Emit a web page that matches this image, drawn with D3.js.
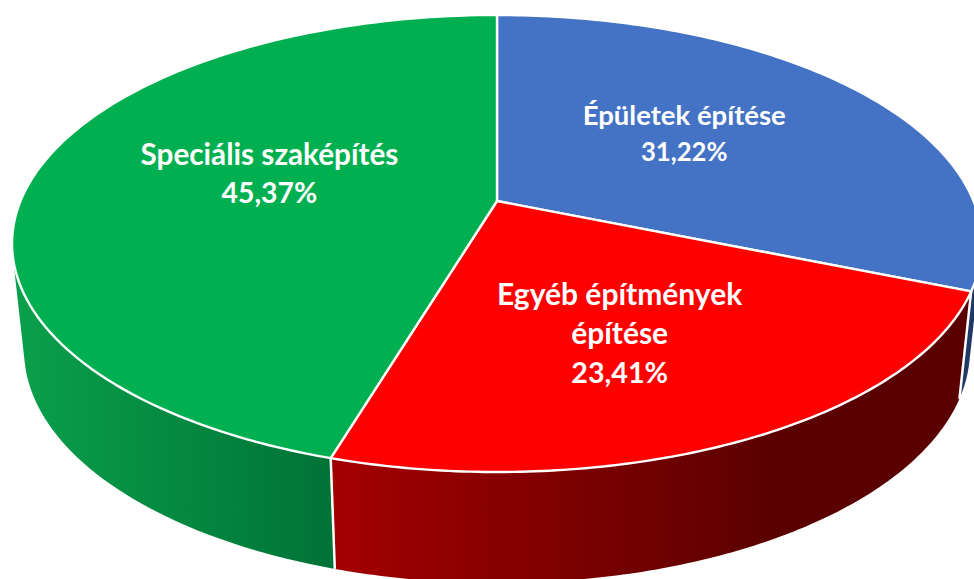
<!DOCTYPE html>
<html lang="en">

<head>
    <meta charset="UTF-8">
    <title>Építőipar</title>
    <script src="https://d3js.org/d3.v7.min.js"></script>
    <style>
        body { margin: 0; background: #fff; }
        svg { display: block; }
        text { font-family: Lato, "Open Sans", sans-serif; font-weight: 700; fill: #fff; }
    </style>
</head>

<body>
    <div id="chart"></div>
    <script>
        // Slices in clockwise order starting from 12 o'clock
        const categories = ["Épületek építése", "Egyéb építmények építése", "Speciális szaképítés"];
        const shares = [31.22, 23.41, 45.37];
        const shareLabels = ["31,22%", "23,41%", "45,37%"];
        const labelLines = [["Épületek építése"], ["Egyéb építmények", "építése"], ["Speciális szaképítés"]];

        const topColors = ["#4472C4", "#FF0000", "#00B050"];
        const wallColors = [["#1f3864", "#1f3864"], ["#a30000", "#5a0000"], ["#0aa04b", "#007236"]];

        const width = 974, height = 579;

        // The disc is seen in perspective, so a circle is pushed through a projective map.
        // tilt = how much nearer the front edge is than the back edge
        const tilt = 0.186;
        const topDisc = { cx: 497, cy: 201, rx: 476.5, ry: 220.6 };
        const bottomDisc = { cx: 497, cy: 306.6, rx: 464.7, ry: 225 };

        function project(disc, angle, r = 1) {
            const x = Math.sin(angle) * r;
            const y = -Math.cos(angle) * r;
            const w = 1 - tilt * y;
            return [disc.cx + disc.rx * x / w, disc.cy + disc.ry * y / w];
        }

        function arcPoints(disc, a0, a1) {
            return d3.range(0, 121).map(i => project(disc, a0 + (a1 - a0) * i / 120));
        }

        const slices = d3.pie().sort(null).value(d => d)(shares);
        const line = d3.line();

        const svg = d3.select("#chart")
            .append("svg")
            .attr("width", width)
            .attr("height", height);

        const defs = svg.append("defs");
        wallColors.forEach((c, i) => {
            const grad = defs.append("linearGradient")
                .attr("id", "wall" + i)
                .attr("gradientUnits", "userSpaceOnUse")
                .attr("x1", i === 2 ? 15 : 336).attr("x2", i === 2 ? 336 : 780)
                .attr("y1", 0).attr("y2", 0);
            grad.append("stop").attr("offset", 0).attr("stop-color", c[0]);
            grad.append("stop").attr("offset", 1).attr("stop-color", c[1]);
        });

        // Side walls: hull of both rims, painted so the red one ends up on top of the overlaps
        svg.append("g").selectAll("path")
            .data([0, 2, 1])
            .join("path")
            .attr("d", i => {
                const s = slices[i];
                const pts = arcPoints(topDisc, s.startAngle, s.endAngle)
                    .concat(arcPoints(bottomDisc, s.startAngle, s.endAngle));
                return line(d3.polygonHull(pts)) + "Z";
            })
            .attr("fill", i => `url(#wall${i})`);

        // White edges running down the wall at the front slice boundaries
        svg.append("g").selectAll("path")
            .data(slices.slice(0, 2))
            .join("path")
            .attr("d", s => line([project(topDisc, s.endAngle), project(bottomDisc, s.endAngle)]))
            .attr("fill", "none")
            .attr("stroke", "#fff")
            .attr("stroke-width", 2.5);

        // Top face
        svg.append("g").selectAll("path")
            .data(slices)
            .join("path")
            .attr("d", s => line([[topDisc.cx, topDisc.cy]].concat(arcPoints(topDisc, s.startAngle, s.endAngle))) + "Z")
            .attr("fill", (s, i) => topColors[i])
            .attr("stroke", "#fff")
            .attr("stroke-width", 2.4)
            .attr("stroke-linejoin", "round");

        // Labels
        const labelRadius = [0.5, 0.56, 0.5];
        const labelNudge = [[-1, -8.7], [-4, 10.9], [5, -10]];
        const lineStep = [36, 39, 38.5];
        const nameSize = [27.5, 30, 29.7];
        const shareSize = [25.7, 28.7, 28.4];

        svg.append("g").selectAll("text")
            .data(slices)
            .join("text")
            .attr("text-anchor", "middle")
            .each(function (s, i) {
                const mid = (s.startAngle + s.endAngle) / 2;
                const p = project(topDisc, mid, labelRadius[i]);
                const rows = labelLines[i].concat(shareLabels[i]);
                const x = p[0] + labelNudge[i][0];
                const y0 = p[1] + labelNudge[i][1] - (rows.length - 1) * lineStep[i] / 2 + 9;
                d3.select(this).selectAll("tspan")
                    .data(rows)
                    .join("tspan")
                    .attr("x", x)
                    .attr("y", (d, k) => y0 + k * lineStep[i])
                    .attr("font-size", (d, k) => k === rows.length - 1 ? shareSize[i] : nameSize[i])
                    .text(d => d);
            });
    </script>
</body>

</html>
